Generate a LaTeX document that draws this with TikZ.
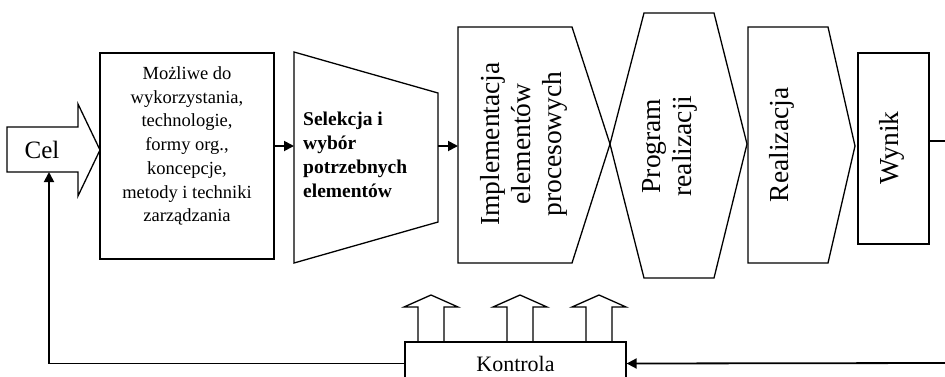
\documentclass[tikz,border=0pt]{standalone}
\usepackage{fontspec}
\setmainfont{Liberation Serif}
\usetikzlibrary{arrows.meta}
\tikzset{
  shp/.style={draw=black, line width=1.3pt, line join=miter},
  conn/.style={draw=black, line width=1.8pt},
  arr/.style={conn, -{Triangle[length=10pt,width=10pt]}},
  txt/.style={inner sep=0pt, align=center},
  rtxt/.style={txt, rotate=90, font=\fontsize{27.5}{31}\selectfont},
}
\begin{document}
\begin{tikzpicture}[x=1pt,y=-1pt]
\useasboundingbox (0,0) rectangle (945,376);
\clip (0,0) rectangle (945,376);
% Cel block arrow
\draw[shp] (7,127) -- (78,127) -- (78,104) -- (100,150) -- (78,196) -- (78,172) -- (7,172) -- cycle;
\node[txt, font=\fontsize{25}{30}\selectfont] (cel) at (42,150) {Cel};
\coordinate (celbot) at (49,172);
% Box 1
\node[shp, minimum width=174pt, minimum height=206pt, inner sep=0pt] (b1) at (187,156) {};
\node[txt, font=\fontsize{18.5}{23.7}\selectfont] (b1t) at (187,146) {Możliwe do\\wykorzystania,\\technologie,\\formy org.,\\koncepcje,\\metody i techniki\\zarządzania};
\coordinate (b1out) at (274,146);
% Trapezoid
\draw[shp] (294,52) -- (438,93) -- (438,222) -- (294,263) -- cycle;
\node[txt, align=left, anchor=west, font=\bfseries\fontsize{19.5}{24}\selectfont] (sel) at (303,155) {Selekcja i\\wybór\\potrzebnych\\elementów};
\coordinate (selin) at (294,146);
\coordinate (selout) at (438,146);
% Implementacja
\draw[shp] (458,27) -- (572,27) -- (610,144) -- (572,263) -- (458,263) -- cycle;
\node[rtxt] (impl) at (524,144) {Implementacja\\elementów\\procesowych};
\coordinate (implin) at (458,146);
% Program realizacji
\draw[shp] (610,144) -- (644,13) -- (714,13) -- (747,144) -- (714,278) -- (644,278) -- cycle;
\node[rtxt] (prog) at (670,146) {Program\\realizacji};
% Realizacja
\draw[shp] (748,27) -- (828,27) -- (855,146) -- (828,263) -- (748,263) -- cycle;
\node[rtxt] (real) at (782,145) {Realizacja};
% Wynik
\node[shp, minimum width=71pt, minimum height=191pt, inner sep=0pt] (wyn) at (893.5,148.5) {};
\node[rtxt] (wynt) at (892,148) {Wynik};
\coordinate (wout) at (929,141);
\coordinate (redge1) at (946,141);
\coordinate (redge2) at (946,363);
% Kontrola
\node[shp, minimum width=221pt, minimum height=43pt, inner sep=0pt] (k) at (515.5,363.5) {};
\node[txt, font=\fontsize{22}{26}\selectfont] (kt) at (515.5,364) {Kontrola};
% block up-arrows
\foreach \c in {431,520,599}{
  \draw[shp] (\c-13,342) -- (\c-13,307) -- (\c-27,307) -- (\c,295) -- (\c+27,307) -- (\c+13,307) -- (\c+13,342);
}
% connectors
\draw[arr] (b1out) -- (selin);
\draw[arr] (selout) -- (implin);
\draw[conn] (wout) -- (redge1);
\draw[arr] (redge2) -- (k.east);
\draw[arr] (k.west) -| (celbot);
\end{tikzpicture}
\end{document}
